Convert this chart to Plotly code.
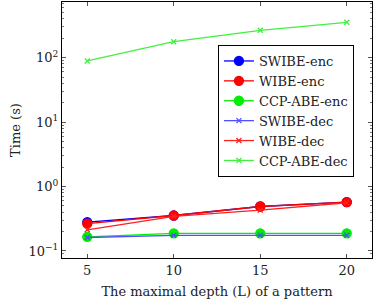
import plotly.graph_objects as go

depth = [5, 10, 15, 20]
swibe_enc = [0.28, 0.355, 0.49, 0.575]
wibe_enc = [0.265, 0.355, 0.49, 0.575]
ccp_enc = [0.166, 0.188, 0.188, 0.188]
swibe_dec = [0.162, 0.175, 0.175, 0.175]
wibe_dec = [0.213, 0.345, 0.43, 0.56]
ccp_dec = [89, 177, 266, 354]

series = [
    ("SWIBE-enc", swibe_enc, "#0000ff", "circle", 9),
    ("WIBE-enc", wibe_enc, "#ff0000", "circle", 9),
    ("CCP-ABE-enc", ccp_enc, "#00ee00", "circle", 9),
    ("SWIBE-dec", swibe_dec, "#5050ff", "x-thin", 5),
    ("WIBE-dec", wibe_dec, "#ff2020", "x-thin", 5),
    ("CCP-ABE-dec", ccp_dec, "#40f040", "x-thin", 5),
]

fig = go.Figure()
for name, vals, col, sym, sz in series:
    fig.add_trace(go.Scatter(
        x=depth, y=vals, name=name, mode="lines+markers",
        line=dict(color=col, width=1.3),
        marker=dict(symbol=sym, size=sz, color=col,
                    line=dict(color=col, width=1.3)),
    ))

font = "DejaVu Serif"
fig.update_layout(
    width=378, height=308,
    margin=dict(l=62, r=6, t=2, b=50),
    plot_bgcolor="white", paper_bgcolor="white",
    font=dict(family=font, size=13, color="#222"),
    showlegend=True,
    legend=dict(x=0.503, y=0.832, xanchor="left", yanchor="top",
                bordercolor="black", borderwidth=1, bgcolor="white",
                font=dict(family=font, size=13), itemwidth=30,
                tracegroupgap=0),
)
fig.update_xaxes(
    range=[3.54, 21.46], tickvals=depth, ticktext=[str(d) for d in depth],
    showline=True, linecolor="black", linewidth=1, mirror="ticks",
    ticks="inside", ticklen=4, tickcolor="#555", showgrid=False, zeroline=False,
    title=dict(text="The maximal depth (L) of a pattern", standoff=10,
               font=dict(family=font, size=13)),
)
fig.update_yaxes(
    type="log", range=[-1.109, 2.864],
    tickvals=[0.1, 1, 10, 100],
    ticktext=["10<sup>−1</sup>", "10<sup>0</sup>", "10<sup>1</sup>", "10<sup>2</sup>"],
    showline=True, linecolor="black", linewidth=1, mirror="ticks",
    ticks="inside", ticklen=4, tickcolor="#555", showgrid=False,
    minor=dict(ticks="inside", ticklen=2, tickcolor="#777",
               tickvals=[m * 10 ** e for e in range(-2, 3) for m in range(2, 10)]),
    title=dict(text="Time (s)", standoff=4, font=dict(family=font, size=13)),
)
fig.write_html("out.html")
